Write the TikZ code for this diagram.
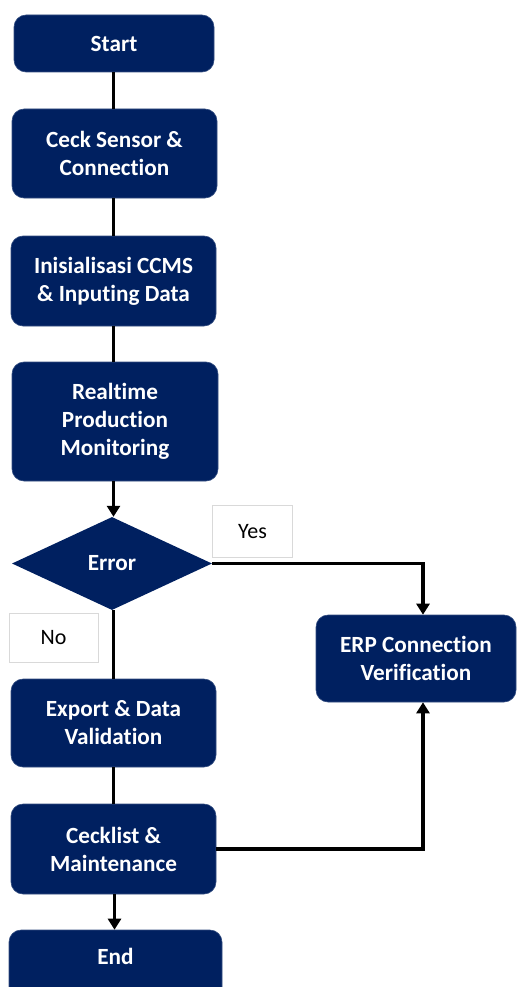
\documentclass[tikz,border=0pt]{standalone}
\usepackage{fontspec}
\setmainfont[Ligatures=NoCommon]{Carlito}
\usetikzlibrary{shapes.geometric,arrows.meta}
\definecolor{navy}{HTML}{002060}
\definecolor{lblborder}{HTML}{D9D9D9}
\begin{document}
\begin{tikzpicture}[x=1pt,y=-1pt,
  box/.style={draw=navy!80!white,line width=0.6pt,fill=navy,rounded corners=12pt,text=white,font=\fontsize{23.2}{28}\selectfont\bfseries,align=center,inner sep=0pt},
  dec/.style={shape=diamond,fill=navy,text=white,font=\fontsize{23.2}{28}\selectfont\bfseries,inner sep=0pt},
  lbl/.style={draw=lblborder,line width=0.6pt,fill=white,font=\fontsize{22}{26}\selectfont,inner sep=0pt},
  conn/.style={line width=3.6pt,draw=black},
  arr/.style={conn,-{Triangle[width=13pt,length=11pt]}}]
\useasboundingbox (0,0) rectangle (518,987);
\clip (0,0) rectangle (518,987);
\node[box,minimum width=200,minimum height=57] (start) at (114,43.5) {Start};
\node[box,minimum width=205,minimum height=89] (chk1) at (114.5,153.5) {Ceck Sensor \&\\Connection};
\node[box,minimum width=205,minimum height=90] (init) at (113.5,281) {Inisialisasi CCMS\\\& Inputing Data};
\node[box,minimum width=206,minimum height=119] (rt) at (115,421.5) {Realtime\\Production\\Monitoring};
\node[dec,minimum width=200,minimum height=93] (err) at (112,563.5) {Error};
\node[lbl,minimum width=80,minimum height=52] (yes) at (252.5,531.5) {Yes};
\node[lbl,minimum width=89,minimum height=49] (no) at (53.5,637.5) {No};
\node[box,minimum width=200,minimum height=87] (erp) at (416,658.5) {ERP Connection\\Verification};
\node[box,minimum width=205,minimum height=88] (exp) at (113.5,723) {Export \& Data\\Validation};
\node[box,minimum width=205,minimum height=90] (cl) at (113.5,849) {Cecklist \&\\Maintenance};
\node[box,minimum width=213,minimum height=70] (end) at (115.5,965) {};
\node[text=white,font=\fontsize{23.2}{28}\selectfont\bfseries] (endt) at (115.5,956) {End};
\coordinate (rx) at (423,0);
\draw[conn] (start.south -| 113.5,0) -- (chk1.north -| 113.5,0);
\draw[conn] (chk1.south -| 113.5,0) -- (init.north -| 113.5,0);
\draw[conn] (init.south -| 113.5,0) -- (rt.north -| 113.5,0);
\draw[arr] (rt.south -| 113.5,0) -- (err.north -| 113.5,0);
\draw[conn] (err.south -| 113.5,0) -- (exp.north -| 113.5,0);
\draw[conn] (exp.south -| 113.5,0) -- (cl.north -| 113.5,0);
\draw[arr] (cl.south -| 114.5,0) -- (end.north -| 114.5,0);
\draw[arr] (err.east) -- (err.east -| rx) -- (erp.north -| rx);
\draw[arr] (cl.east) -- (cl.east -| rx) -- (erp.south -| rx);
\end{tikzpicture}
\end{document}
